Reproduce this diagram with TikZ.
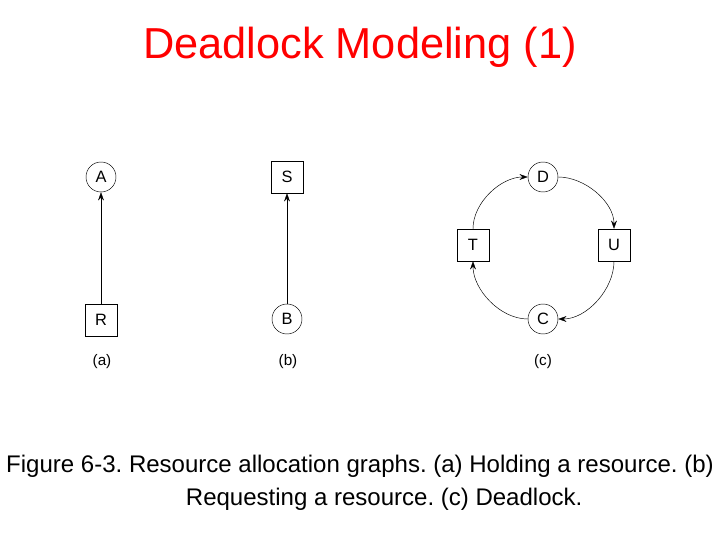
\documentclass[tikz,border=0pt]{standalone}
\usepackage{fontspec}
\setmainfont{Liberation Sans}
\usetikzlibrary{arrows.meta}
\frenchspacing
\begin{document}
\begin{tikzpicture}[x=0.03cm,y=-0.03cm]
\tikzstyle{proc}=[draw,circle,minimum size=30*0.03cm,inner sep=0pt,font=\fontsize{14}{16}\selectfont]
\tikzstyle{res}=[draw,rectangle,minimum size=32*0.03cm,inner sep=0pt,font=\fontsize{14}{16}\selectfont]
\tikzstyle{edge}=[-{Stealth[length=7pt,width=5pt]}]
\tikzstyle{tag}=[font=\fontsize{13}{15}\selectfont]
\useasboundingbox (0,0) rectangle (720,540);
\node [text=red,font=\fontsize{37}{44}\selectfont] (title) at (360,47) {Deadlock Modeling (1)};
% (a)
\node [proc] (A) at (101,177) {A};
\node [res] (R) at (101,320) {R};
\draw [edge] (R) -- (A);
\node [tag] (la) at (102,362) {(a)};
% (b)
\node [res] (S) at (287,177) {S};
\node [proc] (B) at (287,319) {B};
\draw [edge] (B) -- (S);
\node [tag] (lb) at (288,362) {(b)};
% (c)
\node [proc] (D) at (543,177) {D};
\node [res] (T) at (473,245) {T};
\node [res] (U) at (614,245) {U};
\node [proc] (C) at (543,319) {C};
\draw [edge] (T.north) to[out=90,in=180,looseness=0.9] (D.west);
\draw [edge] (D.east) to[out=0,in=90,looseness=0.9] (U.north);
\draw [edge] (U.south) to[out=-90,in=0,looseness=0.9] (C.east);
\draw [edge] (C.west) to[out=180,in=-90,looseness=0.9] (T.south);
\node [tag] (lc) at (543,362) {(c)};
\node [font=\fontsize{20.5}{28}\selectfont,align=center] (caption) at (360,483)
  {Figure 6-3. Resource allocation graphs. (a) Holding a resource. (b)\\\hspace*{1.45cm}Requesting a resource. (c) Deadlock.};
\end{tikzpicture}
\end{document}
